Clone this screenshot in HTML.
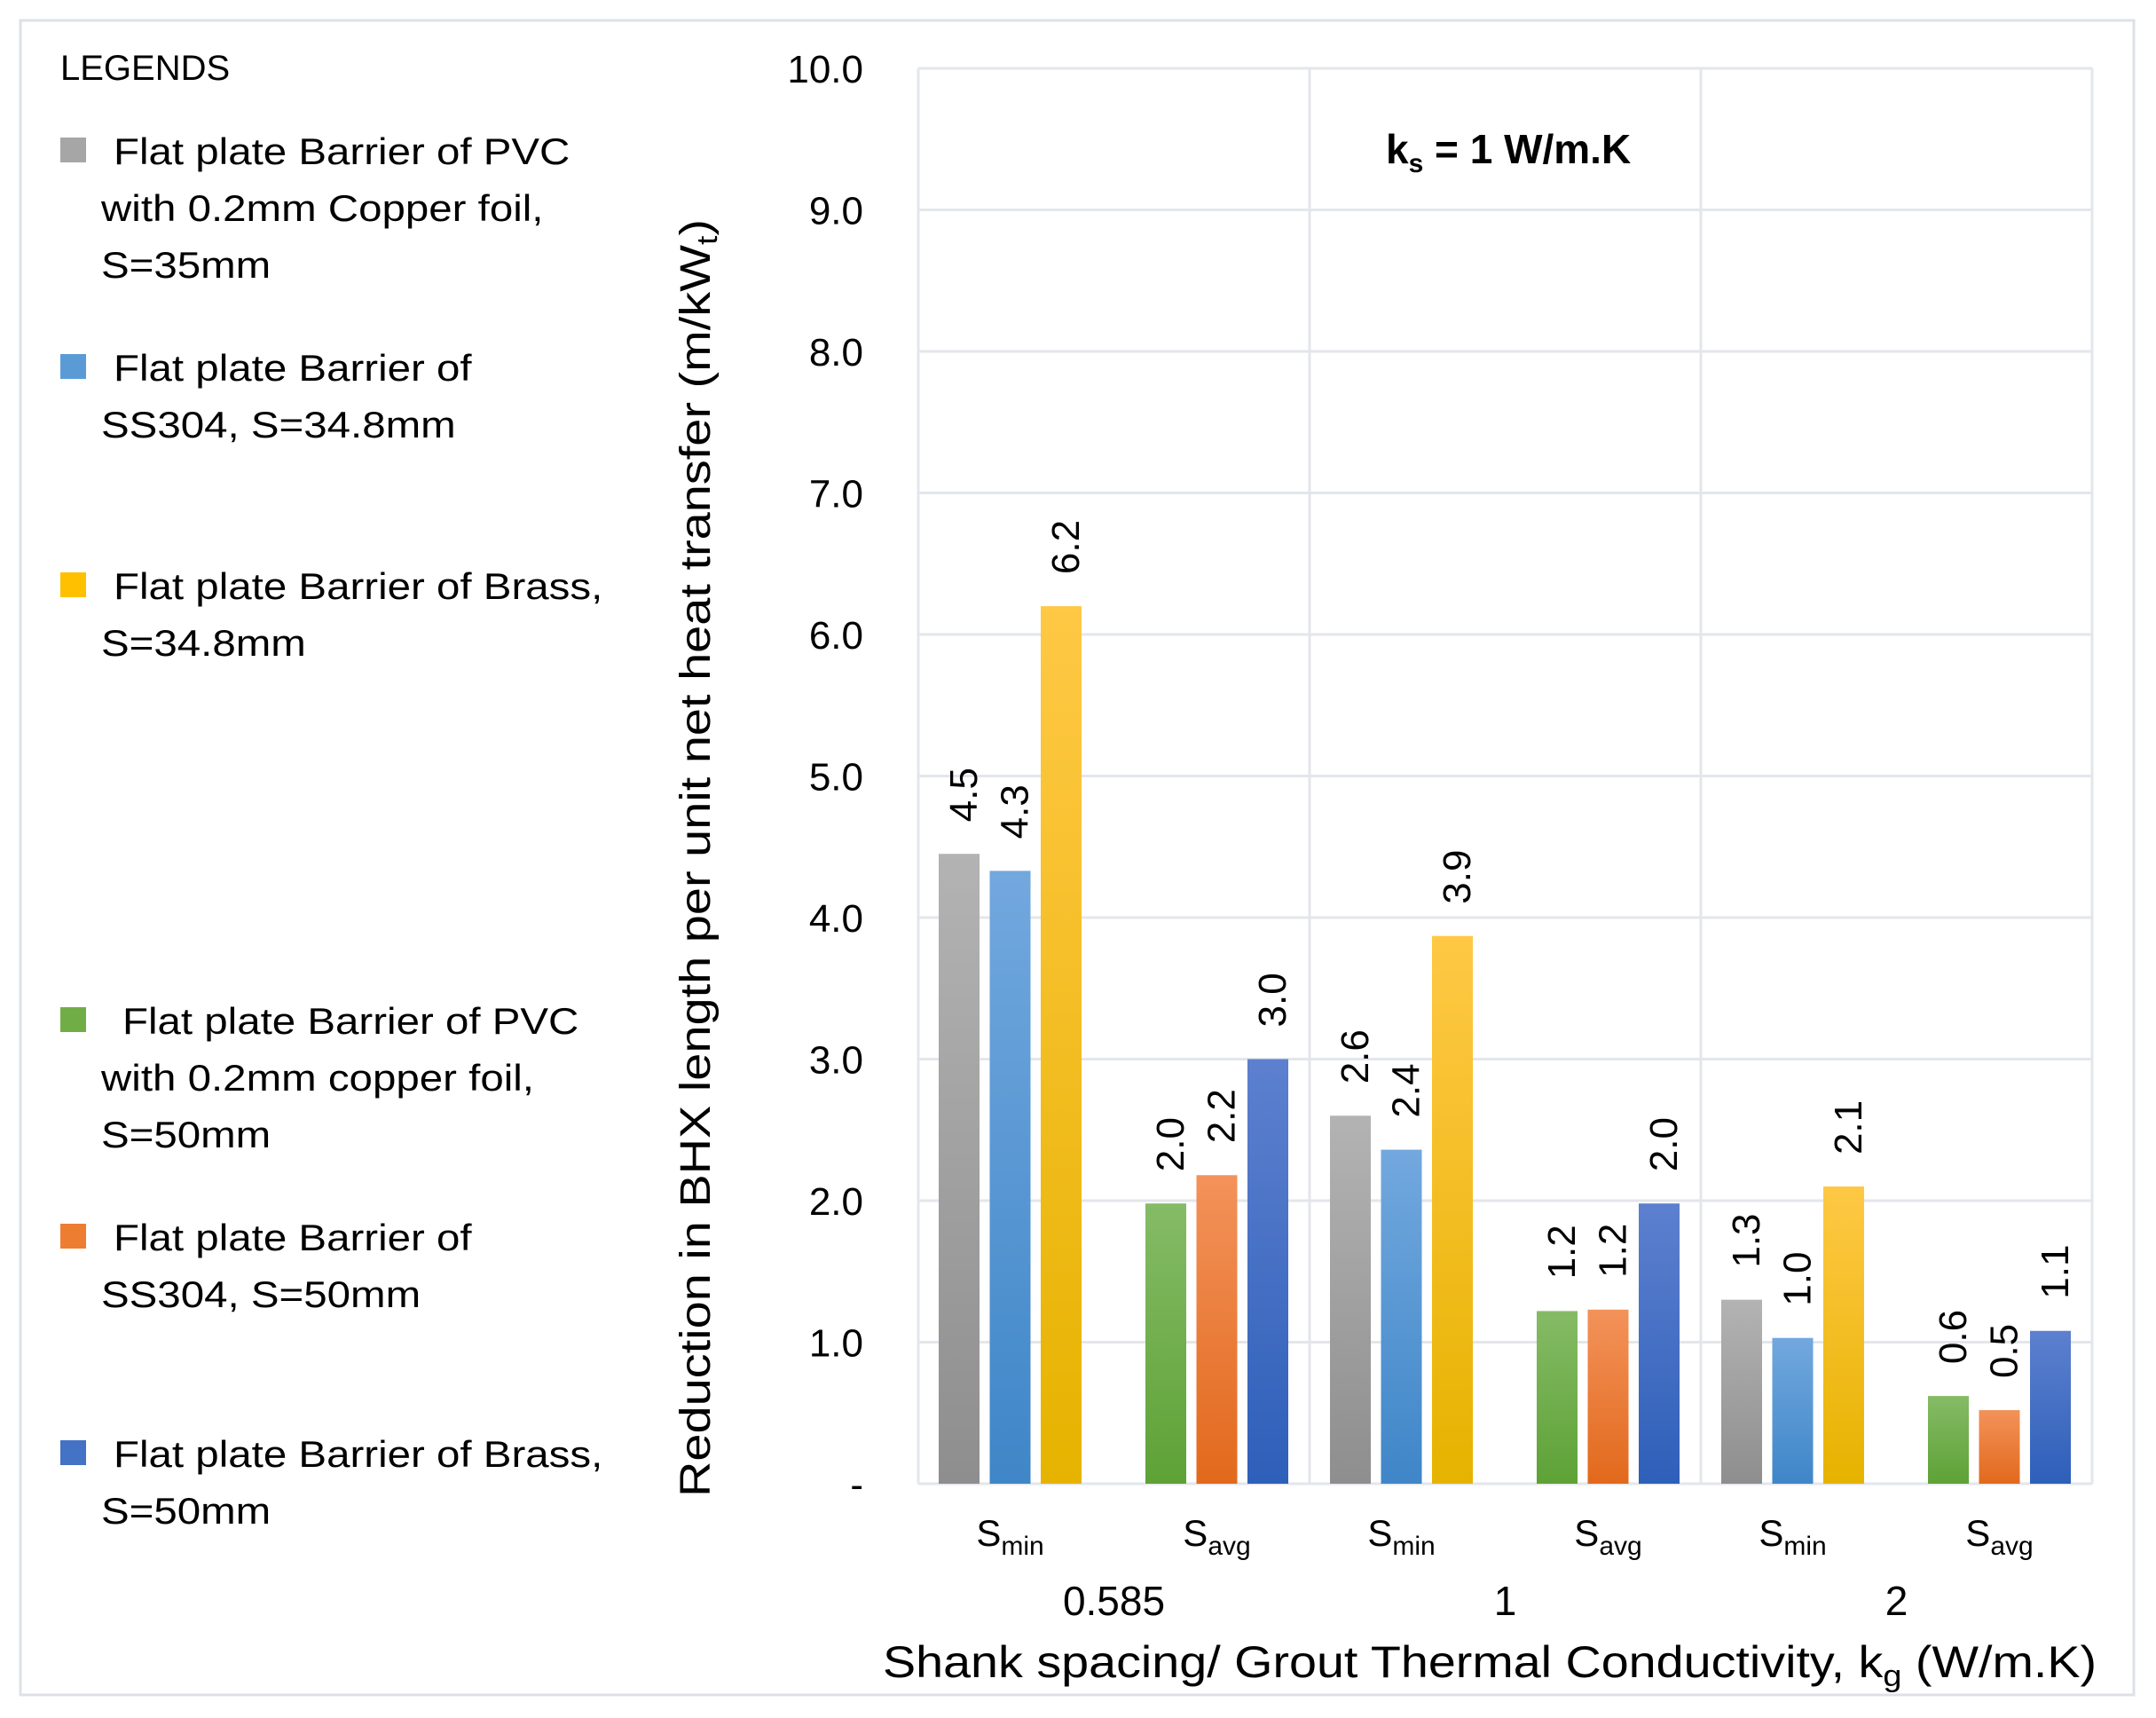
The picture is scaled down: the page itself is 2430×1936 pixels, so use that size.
<!DOCTYPE html>
<html><head><meta charset="utf-8"><style>
html,body{margin:0;padding:0;background:#fff;}
svg{display:block;font-family:"Liberation Sans",sans-serif;}
</style></head><body>
<svg id="chart" width="2430" height="1936" viewBox="0 0 2430 1936" xmlns="http://www.w3.org/2000/svg">
<defs>
<linearGradient id="g-gray" x1="0" y1="0" x2="0" y2="1"><stop offset="0" stop-color="#b3b3b3"/><stop offset="1" stop-color="#8e8e8e"/></linearGradient>
<linearGradient id="g-lblue" x1="0" y1="0" x2="0" y2="1"><stop offset="0" stop-color="#72a8de"/><stop offset="1" stop-color="#3f86c8"/></linearGradient>
<linearGradient id="g-yellow" x1="0" y1="0" x2="0" y2="1"><stop offset="0" stop-color="#ffc845"/><stop offset="1" stop-color="#e6b300"/></linearGradient>
<linearGradient id="g-green" x1="0" y1="0" x2="0" y2="1"><stop offset="0" stop-color="#85bb66"/><stop offset="1" stop-color="#5ea236"/></linearGradient>
<linearGradient id="g-orange" x1="0" y1="0" x2="0" y2="1"><stop offset="0" stop-color="#f3925a"/><stop offset="1" stop-color="#e2691c"/></linearGradient>
<linearGradient id="g-dblue" x1="0" y1="0" x2="0" y2="1"><stop offset="0" stop-color="#5d80cf"/><stop offset="1" stop-color="#2e5fb9"/></linearGradient>
</defs>
<rect x="23" y="23" width="2382" height="1887" fill="#fff" stroke="#dde1e7" stroke-width="3"/>
<g id="grid"></g>
<g id="bars"></g>
<g id="labels"></g>
<g id="axes"></g>
<g id="legend"></g>
<text x="1562" y="184" font-size="46" font-weight="bold" fill="#000">k<tspan font-size="30" dy="10">s</tspan><tspan dy="-10"> = 1 W/m.K</tspan></text>
<text transform="translate(800,967) rotate(-90)" text-anchor="middle" font-size="48" fill="#000" textLength="1440" lengthAdjust="spacingAndGlyphs">Reduction in BHX length per unit net heat transfer (m/kW<tspan font-size="32" dy="8">t</tspan><tspan dy="-8">)</tspan></text>
<text x="995" y="1890" font-size="50" fill="#000" textLength="1368" lengthAdjust="spacingAndGlyphs">Shank spacing/ Grout Thermal Conductivity,  k<tspan font-size="34" dy="10">g</tspan><tspan dy="-10"> (W/m.K)</tspan></text>
</svg>
<script>
const categories = ["min","avg","min","avg","min","avg"];
const groups = ["0.585","1","2"];
const seriesA = [4.45, 1.98, 2.6, 1.22, 1.3, 0.62];
const seriesB = [4.33, 2.18, 2.36, 1.23, 1.03, 0.52];
const seriesC = [6.2, 3.0, 3.87, 1.98, 2.1, 1.08];
const yTicks = [0,1,2,3,4,5,6,7,8,9,10];
const legendTitles = [
 ["Flat plate Barrier of PVC","with 0.2mm Copper foil,","S=35mm"],
 ["Flat plate Barrier of","SS304, S=34.8mm"],
 ["Flat plate Barrier of Brass,","S=34.8mm"],
 ["Flat plate Barrier of PVC","with 0.2mm copper foil,","S=50mm"],
 ["Flat plate Barrier of","SS304, S=50mm"],
 ["Flat plate Barrier of Brass,","S=50mm"]
];
const NS="http://www.w3.org/2000/svg";
const L=1035,R=2358,T=77,B=1672,YMAX=10;
const y=v=>B-(v/YMAX)*(B-T);
const band=(R-L)/categories.length;
const x=i=>{const g=Math.floor(i/2);const gc=L+band*2*(g+0.5);return gc+(i%2===0?-117:116);};
function el(tag,attrs,parent,txt){const e=document.createElementNS(NS,tag);for(const k in attrs)e.setAttribute(k,attrs[k]);if(txt!==undefined)e.textContent=txt;parent.appendChild(e);return e;}
const grid=document.getElementById('grid'),bars=document.getElementById('bars'),labels=document.getElementById('labels'),axes=document.getElementById('axes'),legend=document.getElementById('legend');
yTicks.forEach(t=>{
 const ln=el('line',{x1:L,x2:R,y1:y(t),y2:y(t),stroke:'#e3e6eb','stroke-width':3},grid);
 
 
 const tx=el('text',{x:973,y:y(t)+16,'text-anchor':'end','font-size':44,fill:'#000'},axes,t===0?'-':t.toFixed(1));
 
 
});
for(let g=0;g<=groups.length;g++){
 const gx=L+band*2*g;
 const ln=el('line',{x1:gx,x2:gx,y1:T,y2:B,stroke:'#e3e6eb','stroke-width':3},grid);
 
 
}
const fillsMin=['url(#g-gray)','url(#g-lblue)','url(#g-yellow)'];
const fillsAvg=['url(#g-green)','url(#g-orange)','url(#g-dblue)'];
const series=[seriesA,seriesB,seriesC];
const BW=46,STEP=57.5;
categories.forEach((c,i)=>{
 series.forEach((s,k)=>{
  const v=s[i];const cx=x(i)+(k-1)*STEP;
  const r=el('rect',{x:cx-BW/2,y:y(v),width:BW,height:B-y(v),fill:(c==='min'?fillsMin:fillsAvg)[k]},bars);
  
  
  const ty=y(v)-36;
  const t=el('text',{transform:'translate('+(cx+20)+','+ty+') rotate(-90)','font-size':44,fill:'#000'},labels,v.toFixed(1));
  
  
 });
 const ct=el('text',{x:x(i),y:1742,'text-anchor':'middle','font-size':42,fill:'#000'},axes);
 
 
 el('tspan',{},ct,'S');
 el('tspan',{'font-size':30,dy:10},ct,c);
});
groups.forEach((g,i)=>{
 const t=el('text',{x:L+band*(2*i+1),y:1820,'text-anchor':'middle','font-size':46,fill:'#000'},axes,g);
 
 
});
const lt=el('text',{x:68,y:90,'font-size':40,fill:'#000'},legend,'LEGENDS');


const legendColors=['#a6a6a6','#5b9bd5','#ffc000','#70ad47','#ed7d31','#4472c4'];
const legendBase=[185,429,675,1165,1409,1653];
const firstX=[128,128,128,138,128,128];
legendTitles.forEach((lines,i)=>{
 const g=el('g',{},legend);
 
 
 el('rect',{x:68,y:legendBase[i]-30,width:29,height:28,fill:legendColors[i]},g);
 lines.forEach((ln,j)=>{
  const t=el('text',{x:j===0?firstX[i]:114,y:legendBase[i]+j*64,'font-size':42,fill:'#000'},g,ln);
  const w=t.getComputedTextLength();
  if(w>0){t.setAttribute('textLength',(w*1.13).toFixed(1));t.setAttribute('lengthAdjust','spacingAndGlyphs');}
 });
});
</script>
</body></html>
